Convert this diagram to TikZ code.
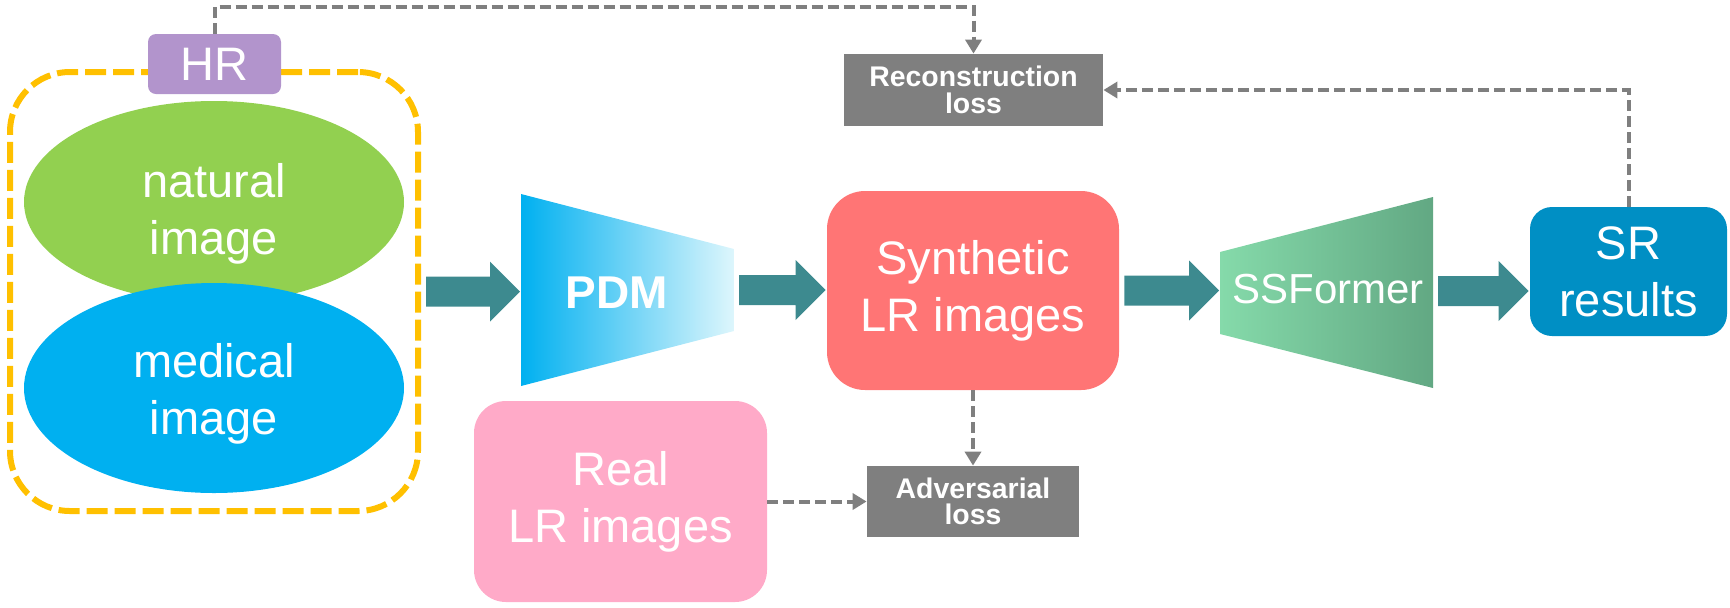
\documentclass[tikz,border=0pt]{standalone}
\usepackage{fontspec}
\setmainfont{Liberation Sans}
\usepackage{tikz}
\usetikzlibrary{calc,positioning,shapes,arrows.meta}
\definecolor{hrpurple}{HTML}{B294CC}
\definecolor{grpyellow}{HTML}{FFC000}
\definecolor{natgreen}{HTML}{92D050}
\definecolor{medblue}{HTML}{00B0F0}
\definecolor{fatteal}{HTML}{3D8A8F}
\definecolor{synred}{HTML}{FF7575}
\definecolor{realpink}{HTML}{FFAAC8}
\definecolor{srblue}{HTML}{008FC4}
\definecolor{lossgray}{HTML}{7F7F7F}
\definecolor{pdmA}{HTML}{00B0F0}
\definecolor{pdmB}{HTML}{DDF6FC}
\definecolor{ssfA}{HTML}{85DAAA}
\definecolor{ssfB}{HTML}{62A883}
\newcommand{\fatarrow}[2]{%
  \fill[fat] ($(#1)+(5,-15)$) -- ($(#2|-#1)+(-31,-15)$) -- ($(#2|-#1)+(-31,-30)$)
    -- ($(#2|-#1)+(-1,0)$) -- ($(#2|-#1)+(-31,30)$) -- ($(#2|-#1)+(-31,15)$)
    -- ($(#1)+(5,15)$) -- cycle;}

\begin{document}
\begin{tikzpicture}[x=0.5pt,y=-0.5pt,
    every node/.style={inner sep=0pt,text=white,align=center},
    big/.style={font=\fontsize{23.5}{28.5}\selectfont},
    loss/.style={fill=lossgray,font=\bfseries\fontsize{14.2}{13.2}\selectfont},
    fat/.style={fill=fatteal},
    loss line/.style={draw=lossgray,line width=2pt,dash pattern=on 5.5pt off 2.5pt,
      -{Triangle[length=7pt,width=8pt]}}]
  \useasboundingbox (0,0) rectangle (1730,607);

  % HR inputs
  \node[draw=grpyellow,line width=3pt,dash pattern=on 10.5pt off 3.5pt,rounded corners=30pt,
    minimum width=204pt,minimum height=219.5pt] (G) at (214,291.5) {};
  \node[ellipse,fill=natgreen,minimum width=190pt,minimum height=101pt] (N) at (214,202) {};
  \node[big] (Ntxt) at (214,213.5) {natural\\image};
  \node[ellipse,fill=medblue,minimum width=190pt,minimum height=105pt] (M) at (214,388) {};
  \node[big] (Mtxt) at (214,393.5) {medical\\image};
  \node[big,fill=hrpurple,rounded corners=4pt,minimum width=66.5pt,minimum height=30pt] (HR) at (214.5,64) {HR};

  % PDM
  \coordinate (P1) at (521,290);
  \coordinate (P2) at (734,290);
  \shade[left color=pdmA,right color=pdmB] (521,194) -- (734,249) -- (734,331) -- (521,386) -- cycle;
  \node[big,font=\bfseries\fontsize{23}{28}\selectfont] (PDM) at (617,293) {PDM};

  \node[big,fill=synred,rounded corners=19pt,minimum width=146pt,minimum height=99.5pt] (Syn) at (973,290.5) {Synthetic\\LR images};
  \node[big,fill=realpink,rounded corners=16pt,minimum width=146.5pt,minimum height=100.5pt] (Real) at (620.5,501.5) {Real\\LR images};

  % SSFormer
  \coordinate (Q1) at (1220,291);
  \coordinate (Q2) at (1433,291);
  \shade[left color=ssfA,right color=ssfB] (1220,252) -- (1433,197) -- (1433,388) -- (1220,334) -- cycle;
  \node[font=\fontsize{21}{25}\selectfont] (SSF) at (1328,289) {SSFormer};

  \node[big,fill=srblue,rounded corners=11pt,minimum width=98.5pt,minimum height=64.5pt] (SR) at (1628.5,271.5) {SR\\results};

  \node[loss,minimum width=129.5pt,minimum height=36pt] (Rec) at (973.5,90) {Reconstruction\\loss};
  \node[loss,minimum width=106pt,minimum height=35.5pt] (Adv) at (973,501.5) {Adversarial\\loss};

  \fatarrow{G.east}{P1}
  \fatarrow{P2}{Syn.west}
  \fatarrow{Syn.east}{Q1}
  \fatarrow{Q2}{SR.west}

  \draw[loss line] (HR.north) -- ++(0,-27) -| (Rec.north);
  \draw[loss line] (SR.north) |- (Rec.east);
  \draw[loss line] (Syn.south) -- (Adv.north);
  \draw[loss line] (Real.east) -- (Adv.west);
\end{tikzpicture}
\end{document}
